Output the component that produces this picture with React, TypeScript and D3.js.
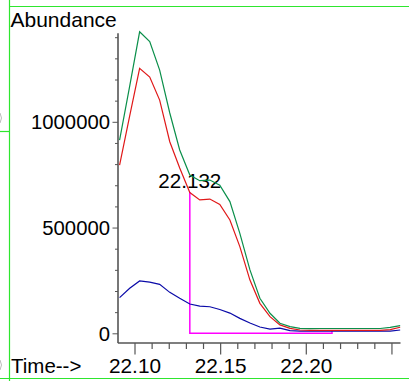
import React from "react";
import * as d3 from "d3";

const times = [
  22.0910, 22.0969, 22.1027, 22.1086, 22.1144, 22.1203, 22.1261, 22.1320,
  22.1378, 22.1437, 22.1495, 22.1554, 22.1612, 22.1671, 22.1729, 22.1788,
  22.1846, 22.1905, 22.1963, 22.2022, 22.2080, 22.2139, 22.2197, 22.2256,
  22.2314, 22.2373, 22.2431, 22.2490, 22.2548,
];

const greenSeries = [
  916000, 1171000, 1428000, 1382000, 1247000, 1044000, 869000, 751000,
  724000, 727000, 703000, 625000, 475000, 302000, 168000, 97000,
  50000, 34000, 26000, 24000, 25000, 25000, 25000, 25000,
  25000, 25000, 25000, 30000, 39000,
];

const redSeries = [
  798000, 1030000, 1255000, 1214000, 1105000, 908000, 784000, 668000,
  633000, 637000, 612000, 538000, 412000, 254000, 144000, 81000,
  42000, 26000, 18000, 16000, 16000, 16000, 16000, 16000,
  16000, 16000, 16000, 20000, 31000,
];

const blueSeries = [
  171000, 215000, 250000, 244000, 234000, 196000, 168000, 141000,
  131000, 128000, 115000, 98000, 73000, 51000, 32000, 22000,
  27000, 15000, 13000, 13000, 13000, 13000, 13000, 13000,
  13000, 13000, 13000, 13000, 18000,
];

const yTickLabels = [0, 500000, 1000000];
const xTickLabels = [22.1, 22.15, 22.2];
const markerTime = 22.132;
const markerEnd = 22.215;
const markerValue = 670000;
const markerLabel = "22.132";

const W = 409;
const H = 381;
const FONT = "'Liberation Sans', Arial, Helvetica, sans-serif";

export default function App() {
  const x = d3.scaleLinear().domain([22.1, 22.2]).range([135, 306.3]);
  const y = d3.scaleLinear().domain([0, 1000000]).range([333.8, 122.3]);

  const xAxisStart = 22.09;
  const xAxisEnd = 22.255;
  const yAxisTop = y.invert(33.3);
  const axisY = 343;
  const axisX = x(xAxisStart);

  const line = d3
    .line<[number, number]>()
    .x((d) => x(d[0]))
    .y((d) => y(d[1]));

  const mk = (vals: number[]) => line(times.map((t, i) => [t, vals[i]] as [number, number])) || "";

  const yMinor = d3.range(0, 1400001, 100000);
  const xMinor = d3.range(0, 16).map((i) => +(22.1 + i * 0.01).toFixed(2));
  const isMajorX = (v: number) => Math.abs(Math.round(v * 20) - v * 20) < 1e-6;

  const x0 = x(markerTime);
  const x1 = x(markerEnd);
  const y0 = y(0) - 0.5;

  const frame = "#2ee62e";
  const axisColor = "#555";

  return (
    <svg
      width={W}
      height={H}
      style={{ position: "absolute", left: 0, top: 0, background: "#fff" }}
      fontFamily={FONT}
    >
      {/* frame lines */}
      <line x1={9.5} y1={0} x2={9.5} y2={H} stroke={frame} strokeWidth={1.2} />
      <line x1={9} y1={6.5} x2={W} y2={6.5} stroke={frame} strokeWidth={1.2} />
      <line x1={0} y1={378.5} x2={W} y2={378.5} stroke={frame} strokeWidth={1.2} />
      <line x1={0} y1={131.5} x2={9} y2={131.5} stroke={frame} strokeWidth={1.2} />
      <path d="M0,113 Q3,118 0,123" fill="none" stroke="#bbb" strokeWidth={1} />
      <path d="M0,360 Q3,365 0,370" fill="none" stroke="#bbb" strokeWidth={1} />

      {/* y axis */}
      <line x1={118} y1={33.3} x2={118} y2={axisY} stroke={axisColor} strokeWidth={1.6} />
      {yMinor.filter((v) => v <= yAxisTop).map((v) => {
        const major = yTickLabels.includes(v);
        return (
          <line
            key={"yt" + v}
            x1={major ? 112.5 : 115}
            x2={118}
            y1={y(v)}
            y2={y(v)}
            stroke={axisColor}
            strokeWidth={1}
          />
        );
      })}
      {yTickLabels.map((v) => (
        <text key={"yl" + v} x={110} y={y(v)} dy="0.35em" textAnchor="end" fontSize={20.3} fill="#000">
          {String(v)}
        </text>
      ))}

      {/* x axis */}
      <line x1={axisX} y1={axisY} x2={x(xAxisEnd)} y2={axisY} stroke={axisColor} strokeWidth={1.6} />
      {xMinor.map((v) => {
        const major = isMajorX(v);
        return (
          <line
            key={"xt" + v}
            x1={x(v)}
            x2={x(v)}
            y1={axisY}
            y2={major ? 354.5 : 349}
            stroke={axisColor}
            strokeWidth={1.2}
          />
        );
      })}
      {xTickLabels.map((v) => (
        <text key={"xl" + v} x={x(v)} y={373} textAnchor="middle" fontSize={20.8} fill="#000">
          {v.toFixed(2)}
        </text>
      ))}

      <text x={11} y={373} fontSize={20.5} fill="#000">Time--&gt;</text>
      <text x={10.5} y={26.7} fontSize={21} fill="#000">Abundance</text>

      {/* marker */}
      <path
        d={`M${x0},${y(markerValue)} V${y0} H${x1} V${y0 - 2}`}
        fill="none"
        stroke="#ff00ff"
        strokeWidth={1.5}
      />
      <text x={x0} y={188.3} textAnchor="middle" fontSize={20.6} fill="#000">
        {markerLabel}
      </text>

      {/* series */}
      <path d={mk(blueSeries)} fill="none" stroke="#0a0aa8" strokeWidth={1.2} />
      <path d={mk(redSeries)} fill="none" stroke="#e01818" strokeWidth={1.2} />
      <path d={mk(greenSeries)} fill="none" stroke="#0a8f4a" strokeWidth={1.2} />
    </svg>
  );
}
